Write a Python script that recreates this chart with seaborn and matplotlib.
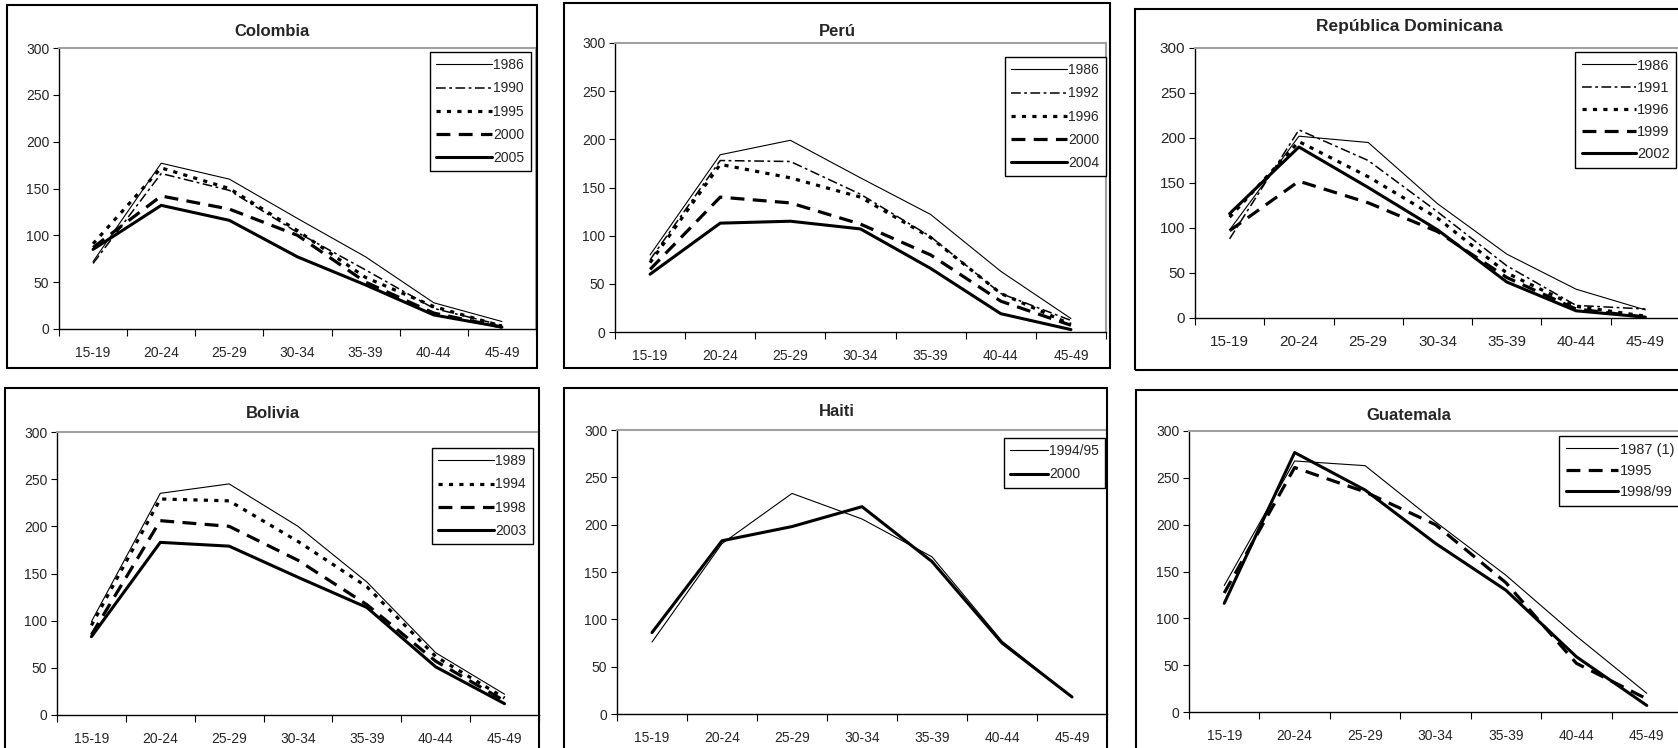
import numpy as np
import matplotlib
matplotlib.use('Agg')
import matplotlib.pyplot as plt
from matplotlib.patches import Rectangle
import seaborn as sns

# Age groups (x axis)
ages = ['15-19', '20-24', '25-29', '30-34', '35-39', '40-44', '45-49']

# Colombia
col_years = ['1986', '1990', '1995', '2000', '2005']
col_1986 = [72, 177, 160, 118, 77, 28, 8]
col_1990 = [70, 166, 148, 103, 63, 22, 4]
col_1995 = [91, 172, 150, 105, 55, 24, 3]
col_2000 = [87, 142, 128, 100, 50, 17, 2]
col_2005 = [85, 132, 116, 77, 47, 15, 2]

# Peru
per_years = ['1986', '1992', '1996', '2000', '2004']
per_1986 = [80, 184, 199, 160, 122, 63, 14]
per_1992 = [75, 178, 177, 143, 99, 40, 12]
per_1996 = [72, 174, 160, 140, 98, 40, 8]
per_2000 = [65, 140, 134, 112, 80, 32, 7]
per_2004 = [60, 113, 115, 107, 66, 19, 2.5]

# Republica Dominicana
dom_years = ['1986', '1991', '1996', '1999', '2002']
dom_1986 = [98, 202, 195, 127, 71, 32, 9]
dom_1991 = [88, 209, 175, 118, 58, 14, 10]
dom_1996 = [112, 196, 157, 111, 50, 13, 2]
dom_1999 = [97, 152, 128, 96, 45, 10, 1]
dom_2002 = [116, 190, 145, 98, 40, 8, 1]

# Bolivia
bol_years = ['1989', '1994', '1998', '2003']
bol_1989 = [99, 235, 245, 200, 141, 66, 22]
bol_1994 = [95, 229, 227, 184, 136, 62, 18]
bol_1998 = [85, 206, 200, 164, 117, 57, 15]
bol_2003 = [83, 183, 179, 146, 114, 51, 12]

# Haiti
hai_years = ['1994/95', '2000']
hai_1995 = [76, 180, 233, 206, 166, 77, 18]
hai_2000 = [86, 183, 198, 219, 161, 75, 18]

# Guatemala
gua_years = ['1987 (1)', '1995', '1998/99']
gua_1987 = [135, 268, 263, 203, 146, 81, 20]
gua_1995 = [127, 261, 235, 200, 138, 52, 14]
gua_1999 = [116, 277, 237, 180, 130, 59, 7]

# line styles (Excel-like black & white)
styles = {
    'thin': dict(lw=0.8, ls='-'),
    'dashdot': dict(lw=1.1, ls=(0, (7, 2.5, 2, 2.5))),
    'dot': dict(lw=2.3, ls=(0, (3, 4.5))),
    'dash': dict(lw=2.3, ls=(0, (10, 6))),
    'thick': dict(lw=2.2, ls='-'),
}

sns.set_style('white')
plt.rcParams['font.family'] = ['Liberation Sans', 'DejaVu Sans']
plt.rcParams['lines.scale_dashes'] = False

W, H = 1678, 748
fig = plt.figure(figsize=(W / 100, H / 100), dpi=100)


def fx(x):
    return x / W


def fy(y):
    return 1 - y / H


def panel(title, years, series, kinds, frame, rect, title_xy, leg_xy,
          tick_fs=10, title_fs=12, leg_fs=10, handle=4.0, spacing=0.66):
    # chart frame
    fl, ft, fr, fb = frame
    fig.add_artist(Rectangle((fx(fl), fy(fb)), fx(fr - fl), (fb - ft) / H,
                             transform=fig.transFigure, fill=False,
                             edgecolor='black', lw=1.5))
    l, t, r, b = rect
    ax = fig.add_axes([fx(l), fy(b), fx(r - l), (b - t) / H])
    pos = np.arange(len(ages))
    for yr, vals, k in zip(years, series, kinds):
        st = styles[k]
        sns.lineplot(x=pos, y=vals, ax=ax, color='black', lw=st['lw'],
                     linestyle=st['ls'], label=yr)
    ax.set_xlim(-0.5, 6.5)
    ax.set_ylim(0, 300)
    ax.set_yticks(np.arange(0, 301, 50))
    ax.set_xticks(np.arange(-0.5, 7, 1))
    ax.set_xticklabels([])
    ax.set_xticks(pos, minor=True)
    ax.set_xticklabels(ages, minor=True)
    ax.tick_params(axis='x', which='major', direction='out', length=5,
                   width=0.8, color='black', bottom=True)
    ax.tick_params(axis='x', which='minor', length=0, pad=12,
                   labelsize=tick_fs)
    ax.tick_params(axis='y', direction='out', length=4, width=0.8,
                   color='black', left=True, labelsize=tick_fs, pad=3)
    ax.set_xlabel('')
    ax.set_ylabel('')
    for s in ['left', 'bottom']:
        ax.spines[s].set_color('black')
        ax.spines[s].set_linewidth(1.0)
    for s in ['top', 'right']:
        ax.spines[s].set_color('#a0a0a0')
        ax.spines[s].set_linewidth(1.5)
    fig.text(fx(title_xy[0]), fy(title_xy[1]), title, ha='center',
             va='center', fontsize=title_fs, fontweight='bold')
    leg = ax.legend(loc='upper left',
                    bbox_to_anchor=(fx(leg_xy[0]), fy(leg_xy[1])),
                    bbox_transform=fig.transFigure, frameon=True,
                    fancybox=False, edgecolor='black', framealpha=1,
                    borderaxespad=0, borderpad=0.45, handlelength=handle,
                    handletextpad=0.1, labelspacing=spacing, fontsize=leg_fs)
    leg.get_frame().set_linewidth(1.0)
    return ax


panel('Colombia', col_years,
      [col_1986, col_1990, col_1995, col_2000, col_2005],
      ['thin', 'dashdot', 'dot', 'dash', 'thick'],
      frame=(7, 5, 537, 368), rect=(59, 48, 536, 329),
      title_xy=(272, 32), leg_xy=(430, 52))

panel('Perú', per_years,
      [per_1986, per_1992, per_1996, per_2000, per_2004],
      ['thin', 'dashdot', 'dot', 'dash', 'thick'],
      frame=(564, 3, 1110, 368), rect=(615, 43, 1106, 332),
      title_xy=(837, 32), leg_xy=(1005, 57))

panel('República Dominicana', dom_years,
      [dom_1986, dom_1991, dom_1996, dom_1999, dom_2002],
      ['thin', 'dashdot', 'dot', 'dash', 'thick'],
      frame=(1135, 9, 1700, 370), rect=(1195, 48, 1680, 318),
      title_xy=(1409, 27), leg_xy=(1575, 52),
      tick_fs=11, title_fs=12.5, leg_fs=10.5, handle=3.7, spacing=0.56)

panel('Bolivia', bol_years,
      [bol_1989, bol_1994, bol_1998, bol_2003],
      ['thin', 'dot', 'dash', 'thick'],
      frame=(5, 388, 539, 760), rect=(57, 432, 539, 715),
      title_xy=(273, 414), leg_xy=(432, 448))

panel('Haiti', hai_years,
      [hai_1995, hai_2000],
      ['thin', 'thick'],
      frame=(564, 388, 1107, 760), rect=(617, 430, 1107, 714),
      title_xy=(837, 412), leg_xy=(1004, 438), handle=2.7)

panel('Guatemala', gua_years,
      [gua_1987, gua_1995, gua_1999],
      ['thin', 'dash', 'thick'],
      frame=(1136, 390, 1700, 760), rect=(1189, 431, 1682, 712),
      title_xy=(1409, 415), leg_xy=(1559, 436),
      tick_fs=10, leg_fs=10.5, handle=3.6, spacing=0.5)

fig.savefig('out.png', dpi=100)
